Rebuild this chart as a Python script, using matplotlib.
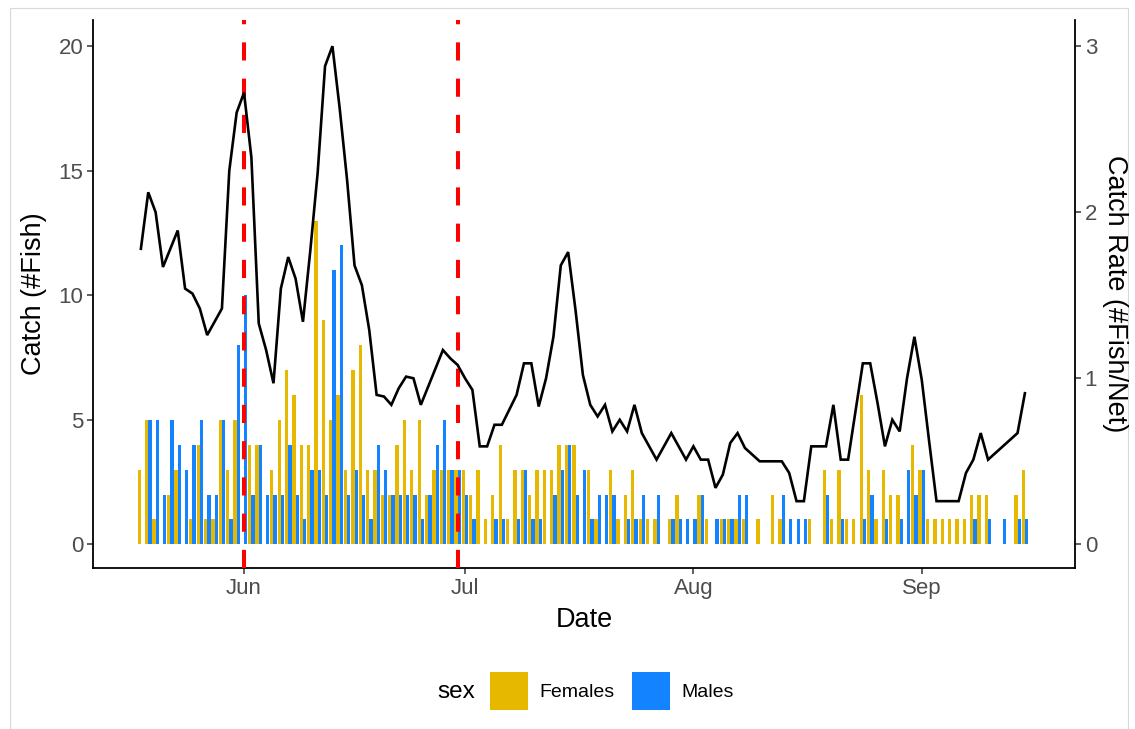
import numpy as np
import pandas as pd
import matplotlib
matplotlib.use("Agg")
import matplotlib.pyplot as plt
from matplotlib.patches import Patch, Rectangle

plt.rcParams['font.family'] = ['Liberation Sans', 'DejaVu Sans']

# daily catch by sex, starting 18 May
start = "2021-05-18"
females = [3, 5, 1, 0, 2, 3, 0, 1, 4, 1, 1, 5, 3, 5, 0, 4, 4, 0, 3, 5,
           7, 6, 4, 4, 13, 9, 5, 6, 3, 7, 8, 3, 3, 2, 2, 4, 5, 3, 5, 2,
           3, 3, 3, 3, 3, 2, 3, 1, 2, 4, 1, 3, 3, 2, 3, 3, 3, 4, 4, 4,
           0, 3, 1, 0, 3, 1, 2, 3, 1, 1, 1, 0, 1, 2, 0, 0, 2, 1, 0, 1,
           1, 1, 1, 0, 1, 0, 2, 1, 0, 0, 0, 1, 0, 3, 1, 3, 1, 1, 6, 3,
           1, 3, 2, 2, 0, 4, 3, 1, 1, 1, 1, 1, 1, 2, 2, 2, 0, 0, 0, 2, 3]
males = [0, 5, 5, 2, 5, 4, 3, 4, 5, 2, 2, 5, 1, 8, 10, 2, 4, 2, 2, 2,
         4, 2, 1, 3, 3, 2, 11, 12, 2, 3, 2, 1, 4, 3, 2, 2, 2, 2, 1, 2,
         4, 5, 3, 3, 2, 1, 0, 0, 1, 1, 0, 1, 3, 1, 1, 0, 2, 3, 4, 2,
         3, 1, 2, 2, 2, 0, 1, 1, 2, 0, 2, 0, 1, 1, 1, 1, 2, 0, 1, 1,
         1, 2, 2, 0, 0, 0, 0, 2, 1, 1, 1, 0, 0, 2, 0, 1, 0, 0, 1, 2,
         0, 1, 0, 1, 3, 2, 3, 0, 0, 0, 0, 0, 0, 1, 0, 1, 0, 1, 0, 1, 1]

# catch per net (nan = no sampling that day)
nan = np.nan
catch_rate = [1.78, 2.12, 2.00, 1.67, 1.78, 1.89, 1.54, 1.51, 1.42, 1.26,
              1.34, 1.42, 2.25, 2.60, 2.72, 2.33, 1.33, 1.17, 0.97, 1.54,
              1.73, 1.60, 1.34, 1.77, 2.24, 2.88, 3.00, 2.62, 2.19, 1.68,
              1.56, 1.29, 0.90, 0.89, 0.84, 0.94, 1.01, 1.00, 0.84, 0.95,
              1.06, 1.17, 1.12, 1.08, 1.00, 0.93, 0.59, 0.59, 0.72, 0.72,
              0.81, 0.90, 1.09, 1.09, 0.83, 1.00, 1.25, 1.68, 1.76, 1.41,
              1.02, 0.84, 0.77, 0.84, 0.68, 0.75, 0.68, 0.84, 0.67, 0.59,
              0.51, nan, 0.67, 0.59, 0.51, 0.59, 0.51, 0.51, 0.34, 0.42,
              0.61, 0.67, 0.58, nan, 0.50, nan, 0.50, 0.50, 0.43, 0.26,
              0.26, 0.59, nan, 0.59, 0.84, 0.51, 0.51, 0.80, 1.09, 1.09,
              0.85, 0.59, 0.75, 0.68, 1.00, 1.25, 0.99, 0.62, 0.26, 0.26,
              0.26, 0.26, 0.43, 0.51, 0.67, 0.51, nan, 0.59, nan, 0.67, 0.91]

season_marks = ["2021-06-01", "2021-06-30"]
month_ticks = ["2021-06-01", "2021-07-01", "2021-08-01", "2021-09-01"]
month_labels = ["Jun", "Jul", "Aug", "Sep"]

dates = pd.date_range(start, periods=len(females), freq="D")
rate = np.array(catch_rate)
ok = ~np.isnan(rate)

gold = "#E7B800"
blue = "#1483FF"
grey_txt = "#4D4D4D"

fig = plt.figure(figsize=(11.35, 7.29), dpi=100)
ax = fig.add_axes([93 / 1135, 1 - 568 / 729, (1075 - 93) / 1135, (568 - 20) / 729])

half = pd.Timedelta(hours=5.4)
ax.bar(dates - half, females, width=0.45, color=gold, linewidth=0)
ax.bar(dates + half, males, width=0.45, color=blue, linewidth=0)

for d in season_marks:
    ax.axvline(pd.Timestamp(d), color="#FF0000", lw=2.9, dashes=(4.5, 4.5), zorder=3)

ax.set_xlim(pd.Timestamp(start) - pd.Timedelta(days=6.5),
            pd.Timestamp(start) + pd.Timedelta(days=126.8))
ylo, yhi = -0.95, 21.05
ax.set_ylim(ylo, yhi)
ax.set_yticks([0, 5, 10, 15, 20])
ax.set_xticks([pd.Timestamp(d) for d in month_ticks])
ax.set_xticklabels(month_labels)

ax2 = ax.twinx()
ax2.plot(dates[ok], rate[ok], color="black", lw=1.9, solid_joinstyle="miter")
ax2.set_ylim(ylo * 3 / 20, yhi * 3 / 20)
ax2.set_yticks([0, 1, 2, 3])

for a in (ax, ax2):
    a.spines["top"].set_visible(False)
    for s in a.spines.values():
        s.set_linewidth(1.3)
    a.tick_params(axis="both", length=4, width=1.1, color="#333333",
                  labelsize=16, labelcolor=grey_txt, pad=3)
ax2.spines["left"].set_visible(False)
ax2.spines["bottom"].set_visible(False)
ax.spines["right"].set_visible(False)

ax.set_xlabel("Date", fontsize=19.5, labelpad=6)
ax.set_ylabel("Catch (#Fish)", fontsize=19.5, labelpad=8)
# secondary axis title, reading top to bottom
fig.text(1115 / 1135, 1 - 294 / 729, "Catch Rate (#Fish/Net)", fontsize=19.5,
         rotation=270, ha="center", va="center")

# legend along the bottom
fig.text(437 / 1135, 1 - 692 / 729, "sex", fontsize=17.5, va="center", ha="left")
handles = [Patch(facecolor=gold, edgecolor="none", label="Females"),
           Patch(facecolor=blue, edgecolor="none", label="Males")]
fig.legend(handles=handles, loc="center left", bbox_to_anchor=(490 / 1135, 1 - 691 / 729),
           ncol=2, frameon=False, fontsize=14, handlelength=1.95, handleheight=2.6,
           handletextpad=0.6, columnspacing=0.9, borderpad=0, borderaxespad=0)

fig.patches.append(Rectangle((10 / 1135, 0), 1118 / 1135, 1 - 8 / 729, transform=fig.transFigure,
                             fill=False, edgecolor="#D9D9D9", lw=0.8))

fig.savefig("out.png", dpi=100)
